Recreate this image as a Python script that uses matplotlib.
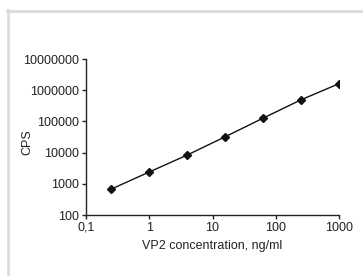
import matplotlib
matplotlib.use("Agg")
import matplotlib.pyplot as plt
from matplotlib.lines import Line2D
from matplotlib.ticker import FixedLocator, FixedFormatter, NullLocator

conc = [0.244, 0.977, 3.9, 15.6, 62.5, 250, 1000]
cps = [660, 2340, 8200, 31600, 126000, 490000, 1620000]
xticks = [0.1, 1, 10, 100, 1000]
xticklabels = ["0,1", "1", "10", "100", "1000"]
yticks = [100, 1000, 10000, 100000, 1000000, 10000000]
yticklabels = ["100", "1000", "10000", "100000", "1000000", "10000000"]

plt.rcParams['font.family'] = ['Liberation Sans', 'DejaVu Sans']
W, H = 363, 276
fig = plt.figure(figsize=(W/100, H/100), dpi=100)
ax = fig.add_axes([86/W, 1-215/H, (339-86)/W, (215-59)/H])
ax.plot(conc, cps, color='#111111', lw=1.0, marker='D', ms=4.5,
        mec='#111111', mfc='#111111')
ax.set_xscale('log')
ax.set_yscale('log')
ax.set_xlim(0.1, 1000)
ax.set_ylim(100, 10000000)
ax.xaxis.set_major_locator(FixedLocator(xticks))
ax.xaxis.set_major_formatter(FixedFormatter(xticklabels))
ax.xaxis.set_minor_locator(NullLocator())
ax.yaxis.set_major_locator(FixedLocator(yticks))
ax.yaxis.set_major_formatter(FixedFormatter(yticklabels))
ax.yaxis.set_minor_locator(NullLocator())
for s in ['top', 'right']:
    ax.spines[s].set_visible(False)
for s in ['left', 'bottom']:
    ax.spines[s].set_color('#222222')
    ax.spines[s].set_linewidth(1.0)
ax.tick_params(axis='both', direction='out', length=3, width=1.0,
               color='#222222', labelsize=9, labelcolor='#222222', pad=2)
ax.set_xlabel("VP2 concentration, ng/ml", fontsize=9, color='#222222', labelpad=4)
ax.set_ylabel("CPS", fontsize=9, color='#222222')
ax.yaxis.set_label_coords((33 - 86) / 253, 0.47)

# light gray frame (left and top edges)
fig.add_artist(Line2D([7.5/W, 7.5/W], [0, 1-10/H], transform=fig.transFigure,
                      color='#dcdcdc', lw=2.0))
fig.add_artist(Line2D([6.5/W, 1], [1-10.5/H, 1-10.5/H], transform=fig.transFigure,
                      color='#dcdcdc', lw=2.0))
fig.savefig("out.png", dpi=100)
